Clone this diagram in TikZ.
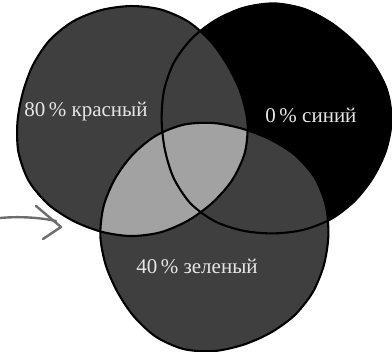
\documentclass[tikz,border=0pt]{standalone}
\usepackage{fontspec}
\setmainfont{Liberation Serif}
\definecolor{darkfill}{HTML}{3F3F3F}
\definecolor{lightfill}{HTML}{A2A2A2}
\definecolor{labelgray}{HTML}{E6E6E6}
\definecolor{arrowgray}{HTML}{6E6E6E}
% hand drawn circle: centre x, centre y, radius, phase
\newcommand\wobble[4]{plot[smooth cycle, domain=0:345, samples=24]
    ({#1+(#3+2*sin(3*\x+#4)+1.2*sin(5*\x+2*#4))*cos(\x)},
     {#2+(#3+2*sin(3*\x+#4)+1.2*sin(5*\x+2*#4))*sin(\x)})}

\begin{document}
\begin{tikzpicture}[x=1pt, y=-1pt,
        blob/.style={draw=black, line width=2.1pt, line join=round},
        lbl/.style={text=labelgray, inner sep=0pt, font=\fontsize{21}{25}\selectfont},
        pointer/.style={draw=arrowgray, line width=2.4pt, line cap=round, line join=round}]
    \useasboundingbox (0,0) rectangle (392,352);
    \def\redpath{\wobble{131}{122}{115}{20}}
    \def\bluepath{\wobble{274}{120}{115}{70}}
    \def\greenpath{\wobble{214}{236}{114}{130}}
    % fills
    \fill[black] \bluepath;
    \fill[darkfill] \redpath;
    \fill[darkfill] \greenpath;
    \begin{scope}
        \clip \redpath;
        \fill[lightfill] \greenpath;
    \end{scope}
    % outlines
    \draw[blob] \bluepath;
    \draw[blob] \redpath;
    \draw[blob] \greenpath;
    \node[lbl] (redlbl) at (86,112) {80\,\% красный};
    \node[lbl] (bluelbl) at (311,115) {0\,\% синий};
    \node[lbl] (greenlbl) at (197,266) {40\,\% зеленый};
    % pointer
    \coordinate (arrtail) at (0,218);
    \coordinate (arrend) at (56,221);
    \coordinate (arrtip) at (61,227);
    \coordinate (barbup) at (36,206);
    \coordinate (barblow) at (43,239);
    \draw[pointer] (arrtail) .. controls (22,216) and (42,218) .. (arrend);
    \draw[pointer] (barbup) -- (arrtip) -- (barblow);
\end{tikzpicture}
\end{document}
